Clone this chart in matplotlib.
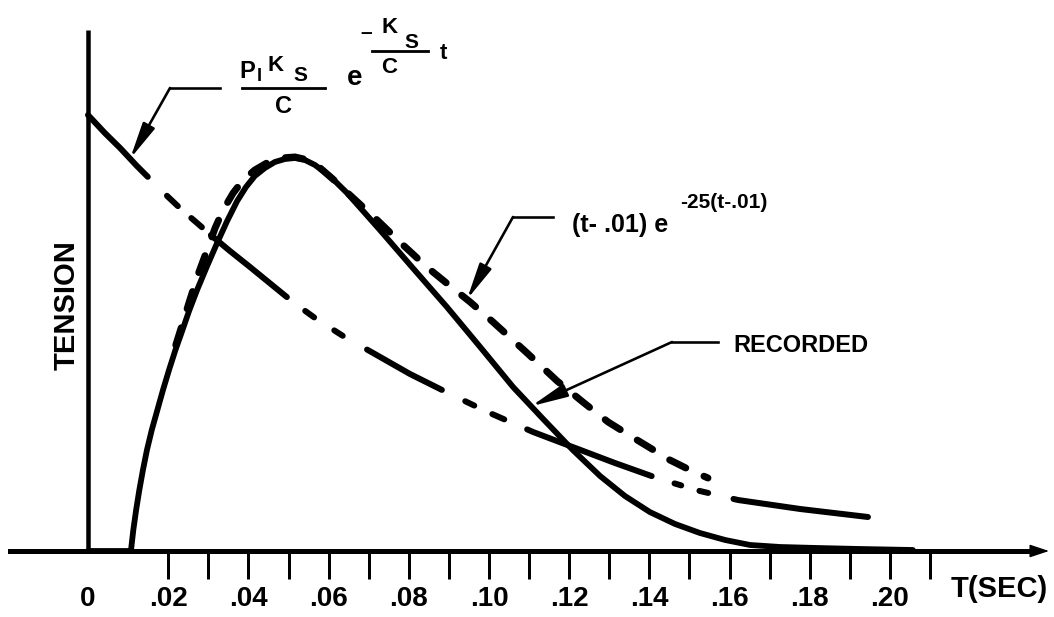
import numpy as np
import matplotlib
matplotlib.use("Agg")
import matplotlib.pyplot as plt
from matplotlib.lines import Line2D

plt.rcParams['font.family'] = ['Liberation Sans', 'DejaVu Sans']
plt.rcParams['lines.scale_dashes'] = False

# ---------------- data ----------------
recorded_t = [0.0, 0.0107, 0.0113, 0.0120, 0.0128, 0.0137, 0.0147, 0.0159, 0.0173,
              0.0187, 0.0202, 0.0218, 0.0233, 0.0252, 0.0272, 0.0297, 0.0322, 0.0347,
              0.0372, 0.0394, 0.0416, 0.0441, 0.0466, 0.0491, 0.0516, 0.0541, 0.0566,
              0.0603, 0.0646, 0.0686, 0.0728, 0.0810, 0.0895, 0.0978, 0.1060, 0.1135,
              0.1209, 0.1277, 0.1339, 0.1401, 0.1464, 0.1526, 0.1589, 0.1651, 0.1726,
              0.1818, 0.1925, 0.2057]
recorded_h = [0.0, 0.0, 0.21, 0.41, 0.61, 0.81, 1.01, 1.21, 1.41,
              1.61, 1.81, 2.01, 2.18, 2.40, 2.61, 2.85, 3.08, 3.30,
              3.50, 3.64, 3.75, 3.83, 3.89, 3.92, 3.93, 3.91, 3.86,
              3.75, 3.58, 3.40, 3.21, 2.83, 2.44, 2.04, 1.64, 1.32,
              1.01, 0.75, 0.55, 0.39, 0.27, 0.18, 0.11, 0.06, 0.04,
              0.03, 0.02, 0.01]

model_t = [0.0219, 0.0237, 0.0254, 0.0274, 0.0297, 0.0317, 0.0337, 0.0362, 0.0387,
           0.0416, 0.0446, 0.0481, 0.0516, 0.0549, 0.0579, 0.0616, 0.0653, 0.0721,
           0.0783, 0.0845, 0.0903, 0.0953, 0.1010, 0.1095, 0.1170, 0.1234, 0.1297,
           0.1357, 0.1394, 0.1451, 0.1501, 0.1546]
model_h = [2.06, 2.29, 2.51, 2.76, 3.01, 3.23, 3.41, 3.58, 3.71,
           3.81, 3.88, 3.93, 3.94, 3.91, 3.83, 3.70, 3.56, 3.31,
           3.07, 2.84, 2.65, 2.49, 2.29, 1.98, 1.70, 1.49, 1.29,
           1.14, 1.05, 0.91, 0.81, 0.73]

decay_t = [0.0, 0.0042, 0.0080, 0.0122, 0.0162, 0.0200, 0.0237, 0.0272, 0.0309,
           0.0354, 0.0404, 0.0459, 0.0511, 0.0566, 0.0636, 0.0711, 0.0803, 0.0903,
           0.1002, 0.1110, 0.1202, 0.1314, 0.1426, 0.1526, 0.1621, 0.1776, 0.1945]
decay_h = [4.36, 4.18, 4.03, 3.85, 3.69, 3.54, 3.40, 3.28, 3.15,
           3.00, 2.84, 2.66, 2.49, 2.33, 2.15, 1.98, 1.77, 1.57,
           1.38, 1.19, 1.05, 0.88, 0.72, 0.60, 0.51, 0.42, 0.34]

x_ticks = [0.00, 0.02, 0.03, 0.04, 0.05, 0.06, 0.07, 0.08, 0.09, 0.10, 0.11,
           0.12, 0.13, 0.14, 0.15, 0.16, 0.17, 0.18, 0.19, 0.20, 0.21]
x_tick_labels = ['0', '.02', '', '.04', '', '.06', '', '.08', '', '.10', '',
                 '.12', '', '.14', '', '.16', '', '.18', '', '.20', '']

# ---------------- layout ----------------
W_PX, H_PX = 1054, 617
X0_PX, PX_PER_UNIT_X = 88.0, 4010.0
Y0_PX, PX_PER_UNIT_Y = 551.0, 100.0

fig = plt.figure(figsize=(W_PX / 100, H_PX / 100), dpi=100)
ax = fig.add_axes([0, 0, 1, 1])
ax.set_xlim(-X0_PX / PX_PER_UNIT_X, (W_PX - X0_PX) / PX_PER_UNIT_X)
ax.set_ylim(-(H_PX - Y0_PX) / PX_PER_UNIT_Y, Y0_PX / PX_PER_UNIT_Y)
ax.patch.set_visible(False)


def F(x, y):
    """pixel position -> figure fraction"""
    return x / W_PX, 1 - y / H_PX


def px2pt(v):
    return v * 0.72


# dash patterns (visual lengths in px), round caps
def dash_seq(visual, lw_px):
    seq = []
    for i, v in enumerate(visual):
        if i % 2 == 0:
            seq.append(px2pt(max(v - lw_px, 0.3)))
        else:
            seq.append(px2pt(v + lw_px))
    return (0, tuple(seq))


decay_lw_px = 6.0
decay_dash = dash_seq([92, 21, 21, 12, 20, 6, 104, 17, 17, 18, 16, 22, 91, 20, 16, 14,
                       19, 19, 139, 18, 13, 13, 15, 20, 160, 40], decay_lw_px)
model_lw_px = 7.0
model_dash = dash_seq([25, 13], model_lw_px)

# ---------------- curves ----------------
ax.plot(decay_t, decay_h, color='black', lw=px2pt(decay_lw_px), linestyle=decay_dash,
        dash_capstyle='round', solid_capstyle='round', dash_joinstyle='round', zorder=3)
ax.plot(model_t, model_h, color='black', lw=px2pt(model_lw_px), linestyle=model_dash,
        dash_capstyle='round', dash_joinstyle='round', zorder=3)
ax.plot(recorded_t, recorded_h, color='black', lw=px2pt(5.8), solid_capstyle='round',
        solid_joinstyle='round', zorder=4)

# ---------------- axes ----------------
for s in ['top', 'right']:
    ax.spines[s].set_visible(False)
ax.spines['left'].set_position(('data', 0))
ax.spines['bottom'].set_position(('data', 0))
ax.spines['left'].set_bounds(0, (Y0_PX - 30) / PX_PER_UNIT_Y)
ax.spines['bottom'].set_bounds((10 - X0_PX) / PX_PER_UNIT_X, (1036 - X0_PX) / PX_PER_UNIT_X)
ax.spines['left'].set_linewidth(px2pt(4.5))
ax.spines['bottom'].set_linewidth(px2pt(5))
ax.spines['left'].set_capstyle('butt')

ax.annotate('', xy=((1049 - X0_PX) / PX_PER_UNIT_X, 0),
            xytext=((1030 - X0_PX) / PX_PER_UNIT_X, 0),
            arrowprops=dict(arrowstyle='-|>,head_length=1.2,head_width=0.4',
                            color='black', lw=1, shrinkA=0, shrinkB=0, mutation_scale=10))

ax.set_yticks([])
ax.set_xticks(x_ticks)
ax.set_xticklabels(x_tick_labels, fontsize=20, fontweight='bold')
ax.tick_params(axis='x', direction='out', length=px2pt(28), width=px2pt(3), pad=5)
ax.xaxis.get_major_ticks()[0].tick1line.set_visible(False)

# ---------------- labels ----------------
fig.text(*F(67, 305), 'TENSION', rotation=90, ha='center', va='center',
         fontsize=21, fontweight='bold')
fig.text(*F(999, 597), 'T(SEC)', ha='center', va='baseline', fontsize=21, fontweight='bold')
fig.text(*F(801, 352), 'RECORDED', ha='center', va='baseline', fontsize=17, fontweight='bold')

# formula 1 :  P1 Ks / C  e^{-(Ks/C) t}
fkw = dict(va='baseline', ha='center', fontweight='bold')
fig.text(*F(247, 78), 'P', fontsize=17, **fkw)
fig.text(*F(259, 81), 'I', fontsize=13, **fkw)
fig.text(*F(276, 71), 'K', fontsize=16, **fkw)
fig.text(*F(300, 81), 'S', fontsize=15, **fkw)
fig.text(*F(284, 113), 'C', fontsize=17, **fkw)
fig.text(*F(355, 85), 'e', fontsize=20, **fkw)
fig.text(*F(366, 38), '\u2013', fontsize=15, **fkw)
fig.text(*F(390, 33), 'K', fontsize=16, **fkw)
fig.text(*F(411, 48), 'S', fontsize=15, **fkw)
fig.text(*F(389, 73), 'C', fontsize=16, **fkw)
fig.text(*F(443, 59), 't', fontsize=16, **fkw)
for (xa, xb, yy) in [(242, 325, 88), (372, 428, 51)]:
    fig.add_artist(Line2D([F(xa, yy)[0], F(xb, yy)[0]], [F(xa, yy)[1]] * 2,
                          transform=fig.transFigure, color='black', lw=px2pt(2.8)))

# formula 2 : (t-.01) e^{-25(t-.01)}
fig.text(*F(572, 232), '(t- .01) e', ha='left', va='baseline', fontsize=18, fontweight='bold')
fig.text(*F(680, 208), '-25(t-.01)', ha='left', va='baseline', fontsize=15, fontweight='bold')

# ---------------- leaders with arrows ----------------
leaders = [
    (0.0105, decay_t, decay_h, (170, 88), (220, 88)),
    (0.0945, model_t, model_h, (513, 217), (553, 217)),
    (0.1105, recorded_t, recorded_h, (672, 342), (718, 342)),
]
for t_tip, tt, hh, elbow, end in leaders:
    h_tip = float(np.interp(t_tip, tt, hh))
    ax.annotate('', xy=(t_tip, h_tip), xycoords='data',
                xytext=F(*elbow), textcoords='figure fraction',
                arrowprops=dict(arrowstyle='-|>,head_length=2.2,head_width=0.4',
                                color='black', lw=px2pt(2.6), shrinkA=0, shrinkB=0,
                                mutation_scale=10), zorder=5)
    fig.add_artist(Line2D([F(*elbow)[0], F(*end)[0]], [F(*elbow)[1], F(*end)[1]],
                          transform=fig.transFigure, color='black', lw=px2pt(2.6)))

fig.savefig('out.png', dpi=100)
